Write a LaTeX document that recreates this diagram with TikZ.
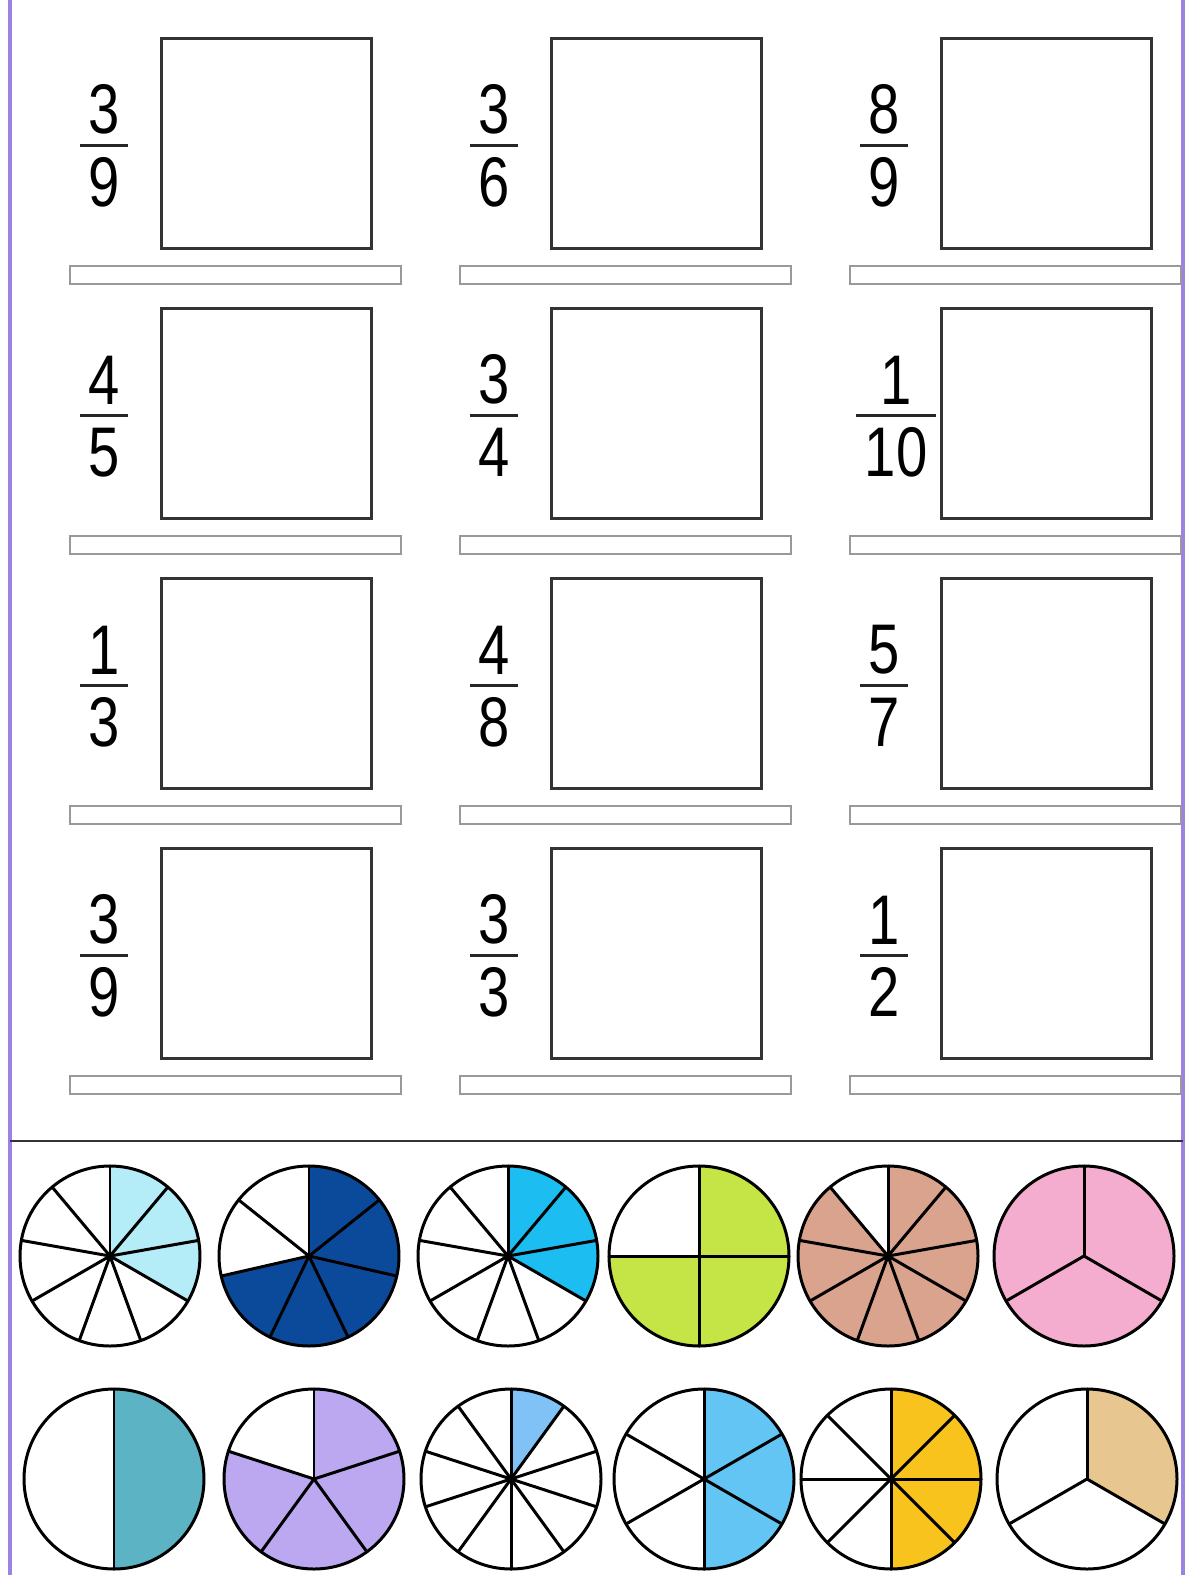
\documentclass[tikz,border=0pt]{standalone}
\usepackage{fontspec}
\newfontfamily\schoolfont[FakeStretch=0.8]{Liberation Sans}
\usetikzlibrary{positioning, calc}

\definecolor{frameviolet}{HTML}{9D82E6}
\definecolor{iceblue}{HTML}{B4ECF8}
\definecolor{navyblue}{HTML}{0B4A9B}
\definecolor{starcyan}{HTML}{1CBDF0}
\definecolor{limegreen}{HTML}{C4E545}
\definecolor{terracotta}{HTML}{D9A38E}
\definecolor{candypink}{HTML}{F5ADCF}
\definecolor{tealblue}{HTML}{5BB3C3}
\definecolor{lavender}{HTML}{BCA8F0}
\definecolor{skyblue}{HTML}{80C2F5}
\definecolor{snowblue}{HTML}{62C5F4}
\definecolor{sunyellow}{HTML}{F7C31C}
\definecolor{woodtan}{HTML}{E7C78F}

\begin{document}
\begin{tikzpicture}[
    x=0.02cm, y=-0.02cm,
    answerbox/.style={
        rectangle, draw=black!80, line width=1.6pt, fill=white,
        minimum width=4.2cm, minimum height=4.2cm, inner sep=0pt,
        anchor=north west
    },
    writeline/.style={
        rectangle, draw=black!40, line width=1.1pt, fill=white,
        minimum width=6.62cm, minimum height=0.36cm, inner sep=0pt,
        anchor=north west
    },
    digit/.style={
        inner sep=0pt, font=\schoolfont\fontsize{40}{40}\selectfont
    },
    fracbar/.style={line width=2pt, black!85},
    pieline/.style={line width=1.7pt, black, line cap=round},
    frame/.style={line width=1.8pt, frameviolet},
]
\useasboundingbox (0,0) rectangle (1185,1575);

% Page frame and separator
\draw[frame] (10,0) -- (10,1575);
\draw[frame] (1183,0) -- (1183,1575);
\draw[line width=1.2pt, black!80] (10,1141) -- (1183,1141);

% Answer grid: fraction, box and writing line
\foreach \num/\den/\dx [count=\i from 0] in
    {3/9/0, 3/6/0, 8/9/0, 4/5/0, 3/4/0, 1/10/12,
     1/3/0, 4/8/0, 5/7/0, 3/9/0, 3/3/0, 1/2/0} {
    \pgfmathtruncatemacro\col{mod(\i,3)}
    \pgfmathtruncatemacro\row{div(\i,3)}
    \node[answerbox] (box-\i) at ({160+390*\col},{37+270*\row}) {};
    \node[writeline] (line-\i) at ({69+390*\col},{265+270*\row}) {};
    \coordinate (bar-\i) at ($(box-\i.west)+({-56+\dx},2)$);
    \node[digit, anchor=south] (num-\i) at ($(bar-\i)+(0,-11)$) {\num};
    \node[digit, anchor=north] (den-\i) at ($(bar-\i)+(0,12)$) {\den};
    \draw[fracbar] ($(den-\i.west |- bar-\i)+(-8,0)$) -- ($(den-\i.east |- bar-\i)+(8,0)$);
}

% Fraction circles: centre, slices, shaded slices, colour
\foreach \cx/\cy/\n/\k/\tint [count=\j] in
    {110/1256/9/3/iceblue, 309/1256/7/5/navyblue, 508/1256/9/3/starcyan,
     699/1256/4/3/limegreen, 888/1256/9/8/terracotta, 1084/1256/3/3/candypink,
     114/1479/2/1/tealblue, 314/1479/5/4/lavender, 511/1479/10/1/skyblue,
     704/1479/6/3/snowblue, 891/1479/8/4/sunyellow, 1087/1479/3/1/woodtan} {
    \coordinate (pie-\j) at (\cx,\cy);
    \fill[\tint] (pie-\j) -- ++(-90:90)
        arc[start angle=-90, end angle={-90+360*\k/\n}, radius=90] -- cycle;
    \foreach \s in {1,...,\n}
        \draw[pieline] (pie-\j) -- ++({-90+360*\s/\n}:90);
    \draw[pieline] (pie-\j) circle[radius=90];
}

\end{tikzpicture}
\end{document}
